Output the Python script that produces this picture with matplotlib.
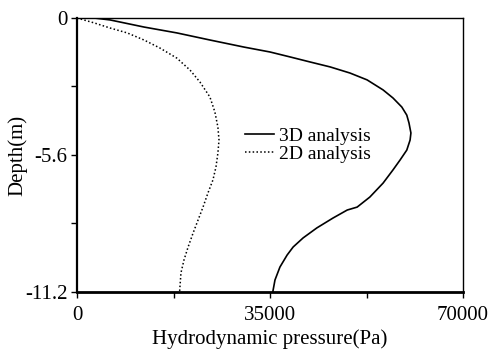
import numpy as np
import matplotlib.pyplot as plt

# pressure (Pa) vs depth (m)
depth_3d = [0, -0.08, -0.37, -0.61, -0.90, -1.19, -1.39, -1.59, -1.80, -2.00,
            -2.25, -2.53, -2.94, -3.27, -3.64, -3.97, -4.29, -4.70, -4.99,
            -5.40, -5.80, -6.21, -6.75, -7.32, -7.73, -7.85, -8.18, -8.58,
            -8.99, -9.36, -9.69, -10.18, -10.71, -11.2]
p_3d = [3100, 6000, 12150, 18100, 24100, 30300, 35000, 38600, 42300, 45900,
        49500, 52600, 55500, 57300, 58900, 59800, 60200, 60550, 60400,
        59800, 58600, 57300, 55500, 53100, 50800, 49000, 46400, 43500,
        41000, 39200, 38100, 36800, 35900, 35500]

depth_2d = [0, -0.20, -0.41, -0.61, -0.90, -1.23, -1.64, -2.13, -2.62, -3.23,
            -3.84, -4.46, -4.99, -5.52, -6.09, -6.62, -7.15, -7.73, -8.26,
            -8.79, -9.36, -9.89, -10.42, -11.2]
p_2d = [0, 3100, 6000, 9100, 12150, 15050, 18100, 20500, 22300, 24100,
        25000, 25550, 25750, 25550, 25200, 24650, 23750, 22850, 21950,
        21050, 20150, 19400, 18850, 18600]

xticks = [0, 35000, 70000]
yticks = [0, -5.6, -11.2]

plt.rcParams['font.family'] = ['Liberation Serif', 'DejaVu Serif']

fig = plt.figure(figsize=(4.93, 3.52), dpi=100)
ax = fig.add_axes([0.1562, 0.1705, 0.7830, 0.7784])

ax.plot(p_3d, depth_3d, c='black', lw=1.2, label='3D analysis')
ax.plot(p_2d, depth_2d, c='black', lw=1.1, ls=(0, (1, 1.5)), label='2D analysis')

ax.set_xlim(0, 70000)
ax.set_ylim(-11.2, 0)
ax.set_xticks(xticks)
ax.set_xticklabels(['0', '35000', '70000'])
ax.set_yticks(yticks)
ax.set_yticklabels(['0', '-5.6', '-11.2'])
ax.set_xticks([17500, 52500], minor=True)
ax.set_yticks([-2.8, -8.4], minor=True)
ax.tick_params(which='both', direction='out', length=4, width=1, labelsize=15)
ax.tick_params(axis='x', pad=6)
ax.tick_params(axis='y', pad=3)

ax.spines['left'].set_linewidth(1.6)
ax.spines['bottom'].set_linewidth(2)
ax.spines['top'].set_linewidth(1)
ax.spines['right'].set_linewidth(1)

ax.set_xlabel('Hydrodynamic pressure(Pa)', fontsize=15, labelpad=3)
ax.set_ylabel('Depth(m)', fontsize=15, labelpad=-2)

ax.legend(loc='upper left', bbox_to_anchor=(0.435, 0.60), frameon=False,
          fontsize=14, handlelength=1.5, handletextpad=0.25,
          labelspacing=0.0, borderpad=0, borderaxespad=0)

plt.savefig('out.png', dpi=100)
